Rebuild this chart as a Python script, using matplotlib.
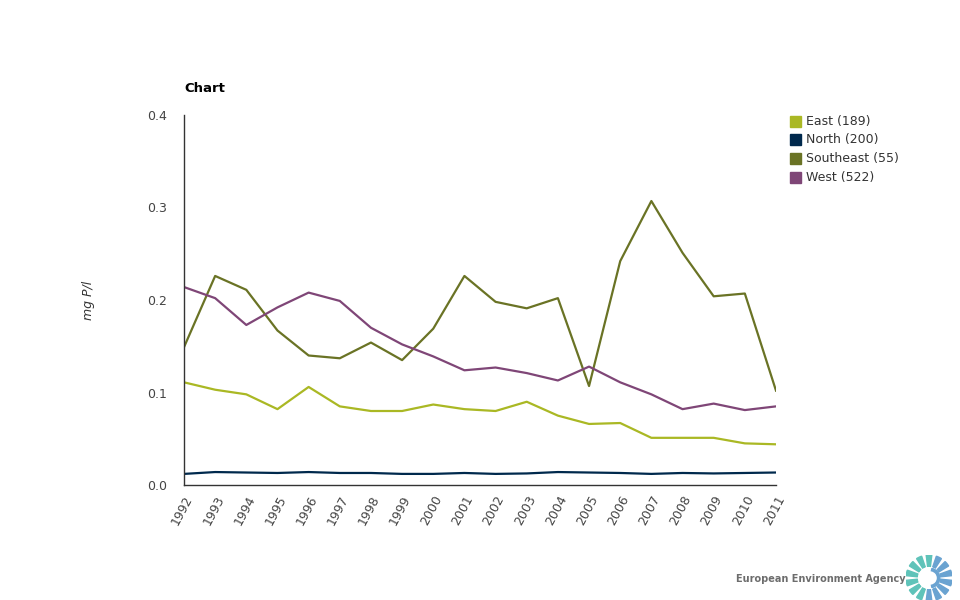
import matplotlib.pyplot as plt
from matplotlib.patches import Rectangle, Wedge, Circle

years = list(range(1992, 2012))
east = [0.111, 0.103, 0.098, 0.082, 0.106, 0.085, 0.080, 0.080, 0.087, 0.082,
        0.080, 0.090, 0.075, 0.066, 0.067, 0.051, 0.051, 0.051, 0.045, 0.044]
north = [0.012, 0.014, 0.0135, 0.013, 0.014, 0.013, 0.013, 0.012, 0.012, 0.013,
         0.012, 0.0125, 0.014, 0.0135, 0.013, 0.012, 0.013, 0.0125, 0.013, 0.0135]
southeast = [0.149, 0.226, 0.211, 0.167, 0.140, 0.137, 0.154, 0.135, 0.169, 0.226,
             0.198, 0.191, 0.202, 0.107, 0.242, 0.307, 0.251, 0.204, 0.207, 0.102]
west = [0.214, 0.202, 0.173, 0.192, 0.208, 0.199, 0.170, 0.152, 0.139, 0.124,
        0.127, 0.121, 0.113, 0.128, 0.111, 0.098, 0.082, 0.088, 0.081, 0.085]

labels = ['East (189)', 'North (200)', 'Southeast (55)', 'West (522)']
colors = ['#aab824', '#00294d', '#6a7325', '#7f4677']
yticks = [0.0, 0.1, 0.2, 0.3, 0.4]

fig = plt.figure(figsize=(9.6, 6), dpi=100)
ax = fig.add_axes([184 / 960, 115 / 600, 592 / 960, 370 / 600])

for series, c in zip([east, north, southeast, west], colors):
    ax.plot(years, series, color=c, linewidth=1.6)

ax.set_xlim(1992, 2011)
ax.set_ylim(0, 0.4)
ax.set_xticks(years)
ax.set_xticklabels([str(y) for y in years], rotation=62, ha='right',
                   rotation_mode='anchor', fontsize=9, color='#444444')
ax.set_yticks(yticks)
ax.set_yticklabels(['%.1f' % v for v in yticks], fontsize=9, color='#444444')
ax.tick_params(axis='both', length=0)
ax.tick_params(axis='x', pad=6)
ax.tick_params(axis='y', pad=12)
for s in ['top', 'right']:
    ax.spines[s].set_visible(False)
for s in ['left', 'bottom']:
    ax.spines[s].set_color('#333333')
    ax.spines[s].set_linewidth(1)

ax.set_ylabel('mg P/l', fontsize=9, style='italic', color='#333333', labelpad=38)

fig.text(184 / 960, 1 - 89 / 600, 'Chart', fontsize=9.5, fontweight='bold',
         va='center', ha='left')

# legend
for i, (lab, c) in enumerate(zip(labels, colors)):
    yc = 1 - (121 + i * 18.7) / 600
    fig.patches.append(Rectangle((790 / 960, yc - 5.5 / 600), 11 / 960, 11 / 600,
                                 transform=fig.transFigure, color=c))
    fig.text(806 / 960, yc, lab, fontsize=9, va='center', ha='left', color='#333333')

# footer
fig.text(736 / 960, 1 - 579 / 600, 'European Environment Agency', fontsize=7,
         fontweight='bold', color='#6d6d6d', va='center', ha='left')

lax = fig.add_axes([906 / 960, -1 / 600, 46 / 960, 46 / 600])
lax.set_xlim(-1, 1)
lax.set_ylim(-1, 1)
lax.set_aspect('equal')
lax.axis('off')
for k in range(14):
    a = 90 + k * 360 / 14
    col = '#5fc3b9' if 90 <= a % 360 < 270 else '#6aa3d1'
    lax.add_patch(Wedge((0, 0), 1.0, a - 7, a + 7, width=0.5, color=col))
lax.add_patch(Circle((0, 0), 0.45, color='white'))
lax.add_patch(Wedge((0.05, 0), 0.42, -80, 80, width=0.1, color='#6aa3d1'))

fig.savefig('out.png', dpi=100)
